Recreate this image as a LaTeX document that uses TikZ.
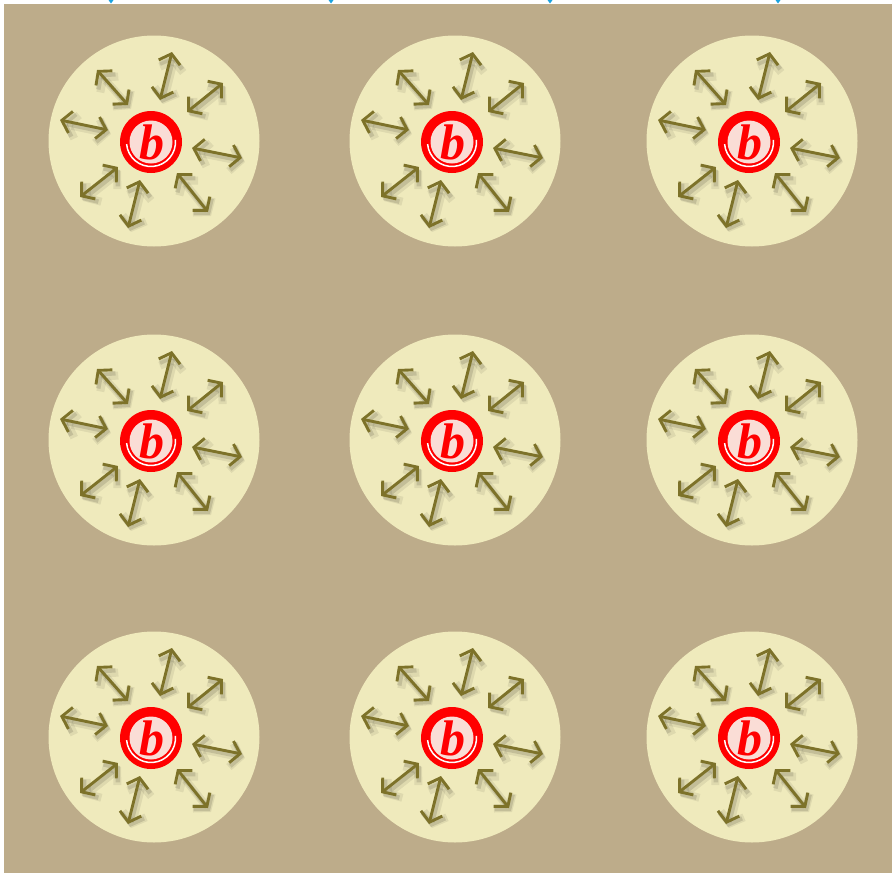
\documentclass[tikz,border=0pt]{standalone}
\usepackage{fontspec}
\newfontfamily\bfont{Liberation Serif}
\usetikzlibrary{arrows.meta}
\definecolor{bgtan}{HTML}{BDAC8A}
\definecolor{pale}{HTML}{EFEABC}
\definecolor{olive}{HTML}{7D7229}
\definecolor{pinkin}{HTML}{FADDD6}
\definecolor{topcyan}{HTML}{1AA3E0}
\begin{document}
\begin{tikzpicture}[x=1pt,y=-1pt,
  dbl/.style={draw=olive, line width=2.9pt, {Straight Barb[length=9pt,width=22pt]}-{Straight Barb[length=9pt,width=22pt]}},
  shad/.style={draw=black, draw opacity=0.07, line width=8pt, {Straight Barb[length=9pt,width=24pt]}-{Straight Barb[length=9pt,width=24pt]}},
  shadb/.style={draw=black, draw opacity=0.12, line width=4.5pt, {Straight Barb[length=9pt,width=23pt]}-{Straight Barb[length=9pt,width=23pt]}},
  bigdisk/.style={circle, fill=pale, minimum size=211pt, inner sep=0pt},
  letterb/.style={text=red, inner sep=0pt, font=\bfont\fontsize{50}{50}\selectfont\bfseries\itshape}]
\useasboundingbox (0,0) rectangle (892,873);
\fill[white] (0,0) rectangle (892,873);
\fill[bgtan] (4,4) rectangle (892,873);
\foreach \x in {111,331,550,778}
  \fill[topcyan] (\x-2.5,0) -- (\x+2.5,0) -- (\x,3.5) -- cycle;
\foreach \cx/\cy [count=\i] in {154/141,455/141,752/141,154/440,455/440,752/440,154/737,455/737,752/737} {
  \begin{scope}[shift={(\cx,\cy)}]
    \node[bigdisk] (c\i) at (0,0) {};
    \foreach \ax/\ay/\bx/\by in {18/-89/6/-41, 69/-58/33/-29, -57/-71/-26/-36, -94/-21/-46/-11, 38/7/88/17, 23/32/54/71, -14/39/-26/87, -36/26/-74/56} {
      \draw[shad] (\ax+3,\ay+4) -- (\bx+3,\by+4);
      \draw[shadb] (\ax+2,\ay+3) -- (\bx+2,\by+3);
      \draw[dbl] (\ax,\ay) -- (\bx,\by);
    }
    \fill[red] (-3,1) circle (31);
    \draw[white, line width=1.5pt] (-3,1) ++(-5:24.5) arc (-5:175:24.5);
    \fill[pinkin] (-3,1) circle (21.5);
    \node[letterb] (b\i) at (-2,1) {b};
  \end{scope}
}
\end{tikzpicture}
\end{document}
